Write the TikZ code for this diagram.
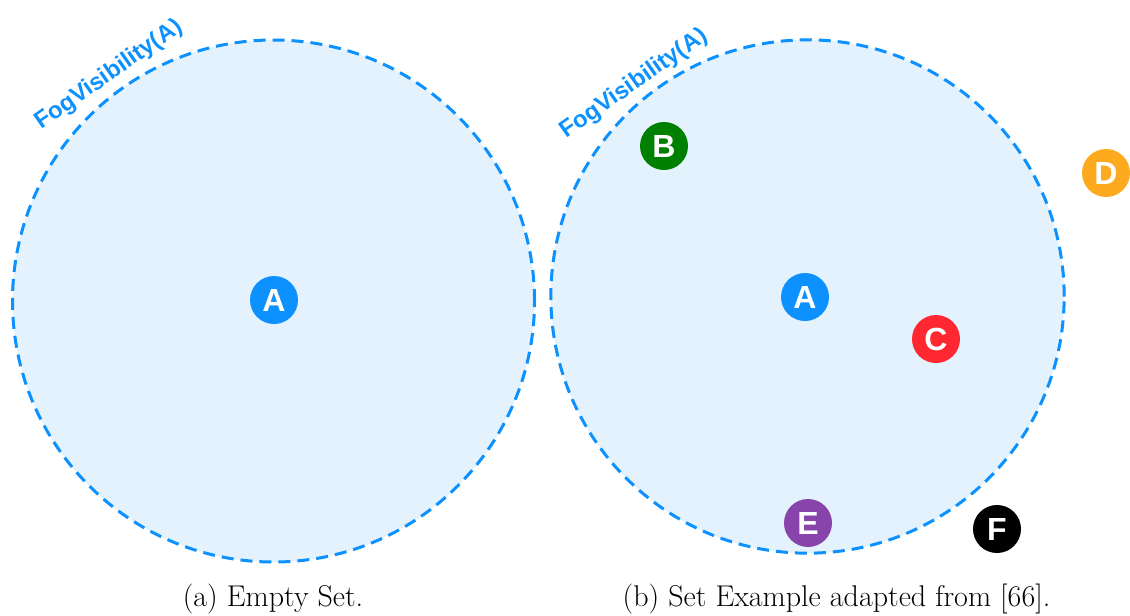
\documentclass[tikz,border=0pt]{standalone}
\usepackage{fontspec}
\newfontfamily\hvfont{Liberation Sans}
\definecolor{fogblue}{RGB}{12,145,255}
\definecolor{fogfill}{RGB}{227,242,253}
\definecolor{agreen}{RGB}{0,128,0}
\definecolor{ared}{RGB}{255,40,48}
\definecolor{aorange}{RGB}{253,170,30}
\definecolor{apurple}{RGB}{137,68,171}
\tikzset{
  fogring/.style={circle, draw=fogblue, fill=fogfill, line width=2.25pt,
    dash pattern=on 9pt off 5.25pt, inner sep=0pt},
  agent/.style={circle, fill=#1, text=white, minimum size=36pt, inner sep=0pt,
    font=\hvfont\bfseries\fontsize{24}{24}\selectfont},
  foglabel/.style={text=fogblue, rotate=35, inner sep=0pt,
    font=\hvfont\bfseries\fontsize{17.8}{18}\selectfont},
  caption/.style={anchor=base, inner sep=0pt, font=\fontsize{22.5}{26}\selectfont}
}
\begin{document}
\begin{tikzpicture}[x=0.75pt, y=-0.75pt]
  \useasboundingbox (0,0) rectangle (1130,615);

  % (a) empty visibility zone
  \node[fogring, minimum size=391.5pt] (zoneL) at (273.5,301) {};
  \node[foglabel] (lblL) at (109,75) {FogVisibility(A)};
  \node[agent=fogblue] (aL) at (274,300) {A};
  \node[caption] (capL) at (273,606) {(a) Empty Set.};

  % (b) zone with neighbouring agents
  \node[fogring, minimum size=385pt] (zoneR) at (807.5,296.5) {};
  \node[foglabel] (lblR) at (634,84) {FogVisibility(A)};
  \node[agent=fogblue] (aR) at (805,297) {A};
  \node[agent=agreen] (b) at (664,146) {B};
  \node[agent=ared] (c) at (936,339) {C};
  \node[agent=aorange] (d) at (1106,173) {D};
  \node[agent=apurple] (e) at (808,523) {E};
  \node[agent=black] (f) at (997,529) {F};
  \node[caption] (capR) at (836.5,606) {(b) Set Example adapted from [66].};
\end{tikzpicture}
\end{document}
